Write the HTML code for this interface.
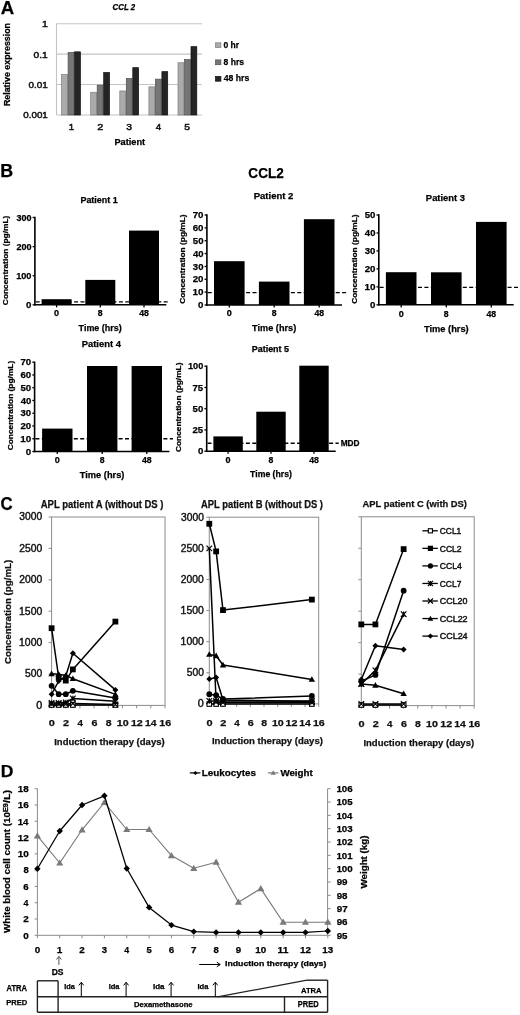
<!DOCTYPE html>
<html><head><meta charset="utf-8"><style>
html,body{margin:0;padding:0;background:#fff;}
svg{display:block;filter:grayscale(1);}
text{font-family:"Liberation Sans",sans-serif;}
</style></head><body>
<svg width="520" height="1015" viewBox="0 0 520 1015">
<rect x="0" y="0" width="520" height="1015" fill="#fff"/>
<text x="0.73" y="14.00" font-size="18.55" font-weight="bold" font-style="normal" fill="#000" stroke="#000" stroke-width="0.25" textLength="13.47" lengthAdjust="spacingAndGlyphs">A</text>
<text x="0.24" y="177.10" font-size="17.83" font-weight="bold" font-style="normal" fill="#000" stroke="#000" stroke-width="0.25" textLength="12.90" lengthAdjust="spacingAndGlyphs">B</text>
<text x="0.53" y="509.62" font-size="17.89" font-weight="bold" font-style="normal" fill="#000" stroke="#000" stroke-width="0.25" textLength="12.13" lengthAdjust="spacingAndGlyphs">C</text>
<text x="0.76" y="776.80" font-size="17.10" font-weight="bold" font-style="normal" fill="#000" stroke="#000" stroke-width="0.25" textLength="12.68" lengthAdjust="spacingAndGlyphs">D</text>
<line x1="56.50" y1="115.00" x2="202.00" y2="115.00" stroke="#c4c4c4" stroke-width="1.1" />
<line x1="56.50" y1="84.57" x2="202.00" y2="84.57" stroke="#c4c4c4" stroke-width="1.1" />
<line x1="56.50" y1="54.14" x2="202.00" y2="54.14" stroke="#c4c4c4" stroke-width="1.1" />
<line x1="56.50" y1="23.71" x2="202.00" y2="23.71" stroke="#c4c4c4" stroke-width="1.1" />
<line x1="56.50" y1="23.60" x2="56.50" y2="115.00" stroke="#c4c4c4" stroke-width="1.1" />
<rect x="61.60" y="74.55" width="5.80" height="40.45" fill="#ababab" stroke="#7d7d7d" stroke-width="0.7"/>
<rect x="68.10" y="52.45" width="5.80" height="62.55" fill="#767676" stroke="#505050" stroke-width="0.7"/>
<rect x="74.60" y="51.85" width="5.80" height="63.15" fill="#252525" stroke="#101010" stroke-width="0.7"/>
<rect x="90.70" y="92.25" width="5.80" height="22.75" fill="#ababab" stroke="#7d7d7d" stroke-width="0.7"/>
<rect x="97.20" y="85.15" width="5.80" height="29.85" fill="#767676" stroke="#505050" stroke-width="0.7"/>
<rect x="103.70" y="72.45" width="5.80" height="42.55" fill="#252525" stroke="#101010" stroke-width="0.7"/>
<rect x="119.80" y="90.95" width="5.80" height="24.05" fill="#ababab" stroke="#7d7d7d" stroke-width="0.7"/>
<rect x="126.30" y="78.45" width="5.80" height="36.55" fill="#767676" stroke="#505050" stroke-width="0.7"/>
<rect x="132.80" y="67.65" width="5.80" height="47.35" fill="#252525" stroke="#101010" stroke-width="0.7"/>
<rect x="148.90" y="86.85" width="5.80" height="28.15" fill="#ababab" stroke="#7d7d7d" stroke-width="0.7"/>
<rect x="155.40" y="79.15" width="5.80" height="35.85" fill="#767676" stroke="#505050" stroke-width="0.7"/>
<rect x="161.90" y="71.65" width="5.80" height="43.35" fill="#252525" stroke="#101010" stroke-width="0.7"/>
<rect x="178.00" y="62.75" width="5.80" height="52.25" fill="#ababab" stroke="#7d7d7d" stroke-width="0.7"/>
<rect x="184.50" y="59.55" width="5.80" height="55.45" fill="#767676" stroke="#505050" stroke-width="0.7"/>
<rect x="191.00" y="46.65" width="5.80" height="68.35" fill="#252525" stroke="#101010" stroke-width="0.7"/>
<text x="41.91" y="27.30" font-size="8.99" font-weight="normal" font-style="normal" fill="#111" stroke="#111" stroke-width="0.45" textLength="5.88" lengthAdjust="spacingAndGlyphs">1</text>
<text x="33.59" y="57.61" font-size="8.59" font-weight="normal" font-style="normal" fill="#111" stroke="#111" stroke-width="0.45" textLength="14.17" lengthAdjust="spacingAndGlyphs">0.1</text>
<text x="28.40" y="87.91" font-size="8.73" font-weight="normal" font-style="normal" fill="#111" stroke="#111" stroke-width="0.45" textLength="19.36" lengthAdjust="spacingAndGlyphs">0.01</text>
<text x="23.31" y="118.11" font-size="8.59" font-weight="normal" font-style="normal" fill="#111" stroke="#111" stroke-width="0.45" textLength="24.46" lengthAdjust="spacingAndGlyphs">0.001</text>
<text transform="translate(9.60,106.07) rotate(-90)" x="0" y="0" font-size="8.56" font-weight="bold" font-style="normal" fill="#000" stroke="#000" stroke-width="0.25" textLength="83.09" lengthAdjust="spacingAndGlyphs">Relative expression</text>
<text x="68.78" y="130.10" font-size="9.28" font-weight="normal" font-style="normal" fill="#111" stroke="#111" stroke-width="0.5" textLength="5.37" lengthAdjust="spacingAndGlyphs">1</text>
<text x="97.21" y="130.10" font-size="9.14" font-weight="normal" font-style="normal" fill="#111" stroke="#111" stroke-width="0.5" textLength="5.99" lengthAdjust="spacingAndGlyphs">2</text>
<text x="126.34" y="130.01" font-size="9.01" font-weight="normal" font-style="normal" fill="#111" stroke="#111" stroke-width="0.5" textLength="5.74" lengthAdjust="spacingAndGlyphs">3</text>
<text x="155.66" y="130.10" font-size="9.28" font-weight="normal" font-style="normal" fill="#111" stroke="#111" stroke-width="0.5" textLength="5.40" lengthAdjust="spacingAndGlyphs">4</text>
<text x="184.24" y="130.01" font-size="9.14" font-weight="normal" font-style="normal" fill="#111" stroke="#111" stroke-width="0.5" textLength="5.74" lengthAdjust="spacingAndGlyphs">5</text>
<text x="114.40" y="144.82" font-size="8.30" font-weight="bold" font-style="normal" fill="#000" stroke="#000" stroke-width="0.25" textLength="30.73" lengthAdjust="spacingAndGlyphs">Patient</text>
<text x="112.61" y="9.52" font-size="8.17" font-weight="bold" font-style="italic" fill="#000" stroke="#000" stroke-width="0.25" textLength="22.58" lengthAdjust="spacingAndGlyphs">CCL 2</text>
<rect x="215.50" y="42.80" width="5.40" height="4.80" fill="#ababab" stroke="#7d7d7d" stroke-width="0.7"/>
<text x="223.46" y="48.11" font-size="9.12" font-weight="bold" font-style="normal" fill="#000" stroke="#000" stroke-width="0.25" textLength="15.66" lengthAdjust="spacingAndGlyphs">0 hr</text>
<rect x="215.50" y="59.90" width="5.40" height="4.80" fill="#767676" stroke="#505050" stroke-width="0.7"/>
<text x="223.54" y="64.91" font-size="9.12" font-weight="bold" font-style="normal" fill="#000" stroke="#000" stroke-width="0.25" textLength="20.50" lengthAdjust="spacingAndGlyphs">8 hrs</text>
<rect x="215.50" y="76.40" width="5.40" height="4.80" fill="#252525" stroke="#101010" stroke-width="0.7"/>
<text x="223.67" y="81.41" font-size="9.12" font-weight="bold" font-style="normal" fill="#000" stroke="#000" stroke-width="0.25" textLength="25.59" lengthAdjust="spacingAndGlyphs">48 hrs</text>
<text x="248.36" y="178.26" font-size="14.08" font-weight="bold" font-style="normal" fill="#000" stroke="#000" stroke-width="0.25" textLength="35.40" lengthAdjust="spacingAndGlyphs">CCL2</text>
<line x1="34.90" y1="216.80" x2="34.90" y2="305.50" stroke="#000" stroke-width="1.6" />
<line x1="34.10" y1="304.80" x2="166.30" y2="304.80" stroke="#000" stroke-width="1.6" />
<line x1="32.60" y1="304.80" x2="34.90" y2="304.80" stroke="#000" stroke-width="1.3" />
<text x="26.11" y="308.01" font-size="9.30" font-weight="bold" font-style="normal" fill="#000" stroke="#000" stroke-width="0.25" textLength="5.39" lengthAdjust="spacingAndGlyphs">0</text>
<line x1="32.60" y1="275.70" x2="34.90" y2="275.70" stroke="#000" stroke-width="1.3" />
<text x="16.15" y="278.91" font-size="9.30" font-weight="bold" font-style="normal" fill="#000" stroke="#000" stroke-width="0.25" textLength="15.35" lengthAdjust="spacingAndGlyphs">100</text>
<line x1="32.60" y1="246.60" x2="34.90" y2="246.60" stroke="#000" stroke-width="1.3" />
<text x="16.38" y="249.81" font-size="9.30" font-weight="bold" font-style="normal" fill="#000" stroke="#000" stroke-width="0.25" textLength="15.11" lengthAdjust="spacingAndGlyphs">200</text>
<line x1="32.60" y1="217.50" x2="34.90" y2="217.50" stroke="#000" stroke-width="1.3" />
<text x="16.47" y="220.71" font-size="9.30" font-weight="bold" font-style="normal" fill="#000" stroke="#000" stroke-width="0.25" textLength="15.02" lengthAdjust="spacingAndGlyphs">300</text>
<rect x="41.60" y="299.20" width="30.00" height="5.60" fill="#000" stroke="none" stroke-width="0"/>
<line x1="56.60" y1="304.80" x2="56.60" y2="307.40" stroke="#000" stroke-width="1.3" />
<rect x="85.30" y="279.90" width="30.00" height="24.90" fill="#000" stroke="none" stroke-width="0"/>
<line x1="100.30" y1="304.80" x2="100.30" y2="307.40" stroke="#000" stroke-width="1.3" />
<rect x="129.00" y="230.60" width="30.00" height="74.20" fill="#000" stroke="none" stroke-width="0"/>
<line x1="144.00" y1="304.80" x2="144.00" y2="307.40" stroke="#000" stroke-width="1.3" />
<line x1="35.70" y1="301.90" x2="169.40" y2="301.90" stroke="#000" stroke-width="1.4" stroke-dasharray="4.0,2.4"/>
<text x="54.09" y="316.31" font-size="8.59" font-weight="bold" font-style="normal" fill="#000" stroke="#000" stroke-width="0.25" textLength="5.03" lengthAdjust="spacingAndGlyphs">0</text>
<text x="97.89" y="316.31" font-size="8.59" font-weight="bold" font-style="normal" fill="#000" stroke="#000" stroke-width="0.25" textLength="4.83" lengthAdjust="spacingAndGlyphs">8</text>
<text x="139.22" y="316.31" font-size="8.59" font-weight="bold" font-style="normal" fill="#000" stroke="#000" stroke-width="0.25" textLength="9.71" lengthAdjust="spacingAndGlyphs">48</text>
<text x="80.42" y="203.21" font-size="9.25" font-weight="bold" font-style="normal" fill="#000" stroke="#000" stroke-width="0.25" textLength="37.33" lengthAdjust="spacingAndGlyphs">Patient 1</text>
<text transform="translate(8.28,305.13) rotate(-90)" x="0" y="0" font-size="7.70" font-weight="bold" font-style="normal" fill="#000" stroke="#000" stroke-width="0.25" textLength="89.42" lengthAdjust="spacingAndGlyphs">Concentration (pg/mL)</text>
<text x="78.61" y="330.75" font-size="9.30" font-weight="bold" font-style="normal" fill="#000" stroke="#000" stroke-width="0.25" textLength="43.10" lengthAdjust="spacingAndGlyphs">Time (hrs)</text>
<line x1="206.90" y1="214.30" x2="206.90" y2="305.70" stroke="#000" stroke-width="1.6" />
<line x1="206.10" y1="305.00" x2="342.00" y2="305.00" stroke="#000" stroke-width="1.6" />
<line x1="204.60" y1="305.00" x2="206.90" y2="305.00" stroke="#000" stroke-width="1.3" />
<text x="198.11" y="308.21" font-size="9.30" font-weight="bold" font-style="normal" fill="#000" stroke="#000" stroke-width="0.25" textLength="5.39" lengthAdjust="spacingAndGlyphs">0</text>
<line x1="204.60" y1="292.14" x2="206.90" y2="292.14" stroke="#000" stroke-width="1.3" />
<text x="192.51" y="295.35" font-size="9.30" font-weight="bold" font-style="normal" fill="#000" stroke="#000" stroke-width="0.25" textLength="11.01" lengthAdjust="spacingAndGlyphs">10</text>
<line x1="204.60" y1="279.29" x2="206.90" y2="279.29" stroke="#000" stroke-width="1.3" />
<text x="192.76" y="282.49" font-size="9.30" font-weight="bold" font-style="normal" fill="#000" stroke="#000" stroke-width="0.25" textLength="10.75" lengthAdjust="spacingAndGlyphs">20</text>
<line x1="204.60" y1="266.43" x2="206.90" y2="266.43" stroke="#000" stroke-width="1.3" />
<text x="192.86" y="269.64" font-size="9.30" font-weight="bold" font-style="normal" fill="#000" stroke="#000" stroke-width="0.25" textLength="10.64" lengthAdjust="spacingAndGlyphs">30</text>
<line x1="204.60" y1="253.57" x2="206.90" y2="253.57" stroke="#000" stroke-width="1.3" />
<text x="192.96" y="256.78" font-size="9.30" font-weight="bold" font-style="normal" fill="#000" stroke="#000" stroke-width="0.25" textLength="10.54" lengthAdjust="spacingAndGlyphs">40</text>
<line x1="204.60" y1="240.71" x2="206.90" y2="240.71" stroke="#000" stroke-width="1.3" />
<text x="192.81" y="243.92" font-size="9.30" font-weight="bold" font-style="normal" fill="#000" stroke="#000" stroke-width="0.25" textLength="10.70" lengthAdjust="spacingAndGlyphs">50</text>
<line x1="204.60" y1="227.86" x2="206.90" y2="227.86" stroke="#000" stroke-width="1.3" />
<text x="192.76" y="231.06" font-size="9.30" font-weight="bold" font-style="normal" fill="#000" stroke="#000" stroke-width="0.25" textLength="10.75" lengthAdjust="spacingAndGlyphs">60</text>
<line x1="204.60" y1="215.00" x2="206.90" y2="215.00" stroke="#000" stroke-width="1.3" />
<text x="192.71" y="218.21" font-size="9.30" font-weight="bold" font-style="normal" fill="#000" stroke="#000" stroke-width="0.25" textLength="10.80" lengthAdjust="spacingAndGlyphs">70</text>
<rect x="214.00" y="261.20" width="30.60" height="43.80" fill="#000" stroke="none" stroke-width="0"/>
<line x1="229.30" y1="305.00" x2="229.30" y2="307.60" stroke="#000" stroke-width="1.3" />
<rect x="258.90" y="281.60" width="30.60" height="23.40" fill="#000" stroke="none" stroke-width="0"/>
<line x1="274.20" y1="305.00" x2="274.20" y2="307.60" stroke="#000" stroke-width="1.3" />
<rect x="303.90" y="219.20" width="30.60" height="85.80" fill="#000" stroke="none" stroke-width="0"/>
<line x1="319.20" y1="305.00" x2="319.20" y2="307.60" stroke="#000" stroke-width="1.3" />
<line x1="207.70" y1="292.60" x2="346.80" y2="292.60" stroke="#000" stroke-width="1.4" stroke-dasharray="4.0,2.4"/>
<text x="226.79" y="316.31" font-size="8.59" font-weight="bold" font-style="normal" fill="#000" stroke="#000" stroke-width="0.25" textLength="5.03" lengthAdjust="spacingAndGlyphs">0</text>
<text x="271.79" y="316.31" font-size="8.59" font-weight="bold" font-style="normal" fill="#000" stroke="#000" stroke-width="0.25" textLength="4.83" lengthAdjust="spacingAndGlyphs">8</text>
<text x="314.42" y="316.31" font-size="8.59" font-weight="bold" font-style="normal" fill="#000" stroke="#000" stroke-width="0.25" textLength="9.71" lengthAdjust="spacingAndGlyphs">48</text>
<text x="253.68" y="199.41" font-size="9.25" font-weight="bold" font-style="normal" fill="#000" stroke="#000" stroke-width="0.25" textLength="39.73" lengthAdjust="spacingAndGlyphs">Patient 2</text>
<text transform="translate(185.28,303.83) rotate(-90)" x="0" y="0" font-size="7.70" font-weight="bold" font-style="normal" fill="#000" stroke="#000" stroke-width="0.25" textLength="89.42" lengthAdjust="spacingAndGlyphs">Concentration (pg/mL)</text>
<text x="252.11" y="331.15" font-size="9.30" font-weight="bold" font-style="normal" fill="#000" stroke="#000" stroke-width="0.25" textLength="44.11" lengthAdjust="spacingAndGlyphs">Time (hrs)</text>
<line x1="378.80" y1="214.30" x2="378.80" y2="305.50" stroke="#000" stroke-width="1.6" />
<line x1="378.00" y1="304.80" x2="513.70" y2="304.80" stroke="#000" stroke-width="1.6" />
<line x1="376.50" y1="304.80" x2="378.80" y2="304.80" stroke="#000" stroke-width="1.3" />
<text x="370.01" y="308.01" font-size="9.30" font-weight="bold" font-style="normal" fill="#000" stroke="#000" stroke-width="0.25" textLength="5.39" lengthAdjust="spacingAndGlyphs">0</text>
<line x1="376.50" y1="286.84" x2="378.80" y2="286.84" stroke="#000" stroke-width="1.3" />
<text x="364.41" y="290.05" font-size="9.30" font-weight="bold" font-style="normal" fill="#000" stroke="#000" stroke-width="0.25" textLength="11.01" lengthAdjust="spacingAndGlyphs">10</text>
<line x1="376.50" y1="268.88" x2="378.80" y2="268.88" stroke="#000" stroke-width="1.3" />
<text x="364.66" y="272.09" font-size="9.30" font-weight="bold" font-style="normal" fill="#000" stroke="#000" stroke-width="0.25" textLength="10.75" lengthAdjust="spacingAndGlyphs">20</text>
<line x1="376.50" y1="250.92" x2="378.80" y2="250.92" stroke="#000" stroke-width="1.3" />
<text x="364.76" y="254.13" font-size="9.30" font-weight="bold" font-style="normal" fill="#000" stroke="#000" stroke-width="0.25" textLength="10.64" lengthAdjust="spacingAndGlyphs">30</text>
<line x1="376.50" y1="232.96" x2="378.80" y2="232.96" stroke="#000" stroke-width="1.3" />
<text x="364.86" y="236.17" font-size="9.30" font-weight="bold" font-style="normal" fill="#000" stroke="#000" stroke-width="0.25" textLength="10.54" lengthAdjust="spacingAndGlyphs">40</text>
<line x1="376.50" y1="215.00" x2="378.80" y2="215.00" stroke="#000" stroke-width="1.3" />
<text x="364.71" y="218.21" font-size="9.30" font-weight="bold" font-style="normal" fill="#000" stroke="#000" stroke-width="0.25" textLength="10.70" lengthAdjust="spacingAndGlyphs">50</text>
<rect x="385.90" y="272.20" width="30.60" height="32.60" fill="#000" stroke="none" stroke-width="0"/>
<line x1="401.20" y1="304.80" x2="401.20" y2="307.40" stroke="#000" stroke-width="1.3" />
<rect x="431.00" y="272.30" width="30.60" height="32.50" fill="#000" stroke="none" stroke-width="0"/>
<line x1="446.30" y1="304.80" x2="446.30" y2="307.40" stroke="#000" stroke-width="1.3" />
<rect x="476.00" y="221.90" width="30.60" height="82.90" fill="#000" stroke="none" stroke-width="0"/>
<line x1="491.30" y1="304.80" x2="491.30" y2="307.40" stroke="#000" stroke-width="1.3" />
<line x1="379.60" y1="287.40" x2="520.00" y2="287.40" stroke="#000" stroke-width="1.4" stroke-dasharray="4.0,2.4"/>
<text x="398.69" y="316.61" font-size="8.59" font-weight="bold" font-style="normal" fill="#000" stroke="#000" stroke-width="0.25" textLength="5.03" lengthAdjust="spacingAndGlyphs">0</text>
<text x="443.89" y="316.61" font-size="8.59" font-weight="bold" font-style="normal" fill="#000" stroke="#000" stroke-width="0.25" textLength="4.83" lengthAdjust="spacingAndGlyphs">8</text>
<text x="486.52" y="316.61" font-size="8.59" font-weight="bold" font-style="normal" fill="#000" stroke="#000" stroke-width="0.25" textLength="9.71" lengthAdjust="spacingAndGlyphs">48</text>
<text x="425.89" y="200.51" font-size="9.12" font-weight="bold" font-style="normal" fill="#000" stroke="#000" stroke-width="0.25" textLength="39.17" lengthAdjust="spacingAndGlyphs">Patient 3</text>
<text transform="translate(357.18,303.83) rotate(-90)" x="0" y="0" font-size="7.70" font-weight="bold" font-style="normal" fill="#000" stroke="#000" stroke-width="0.25" textLength="89.42" lengthAdjust="spacingAndGlyphs">Concentration (pg/mL)</text>
<text x="423.91" y="331.55" font-size="9.30" font-weight="bold" font-style="normal" fill="#000" stroke="#000" stroke-width="0.25" textLength="44.82" lengthAdjust="spacingAndGlyphs">Time (hrs)</text>
<line x1="34.60" y1="361.50" x2="34.60" y2="452.20" stroke="#000" stroke-width="1.6" />
<line x1="33.80" y1="451.50" x2="169.40" y2="451.50" stroke="#000" stroke-width="1.6" />
<line x1="32.30" y1="451.50" x2="34.60" y2="451.50" stroke="#000" stroke-width="1.3" />
<text x="25.81" y="454.71" font-size="9.30" font-weight="bold" font-style="normal" fill="#000" stroke="#000" stroke-width="0.25" textLength="5.39" lengthAdjust="spacingAndGlyphs">0</text>
<line x1="32.30" y1="438.74" x2="34.60" y2="438.74" stroke="#000" stroke-width="1.3" />
<text x="20.21" y="441.95" font-size="9.30" font-weight="bold" font-style="normal" fill="#000" stroke="#000" stroke-width="0.25" textLength="11.01" lengthAdjust="spacingAndGlyphs">10</text>
<line x1="32.30" y1="425.99" x2="34.60" y2="425.99" stroke="#000" stroke-width="1.3" />
<text x="20.46" y="429.19" font-size="9.30" font-weight="bold" font-style="normal" fill="#000" stroke="#000" stroke-width="0.25" textLength="10.75" lengthAdjust="spacingAndGlyphs">20</text>
<line x1="32.30" y1="413.23" x2="34.60" y2="413.23" stroke="#000" stroke-width="1.3" />
<text x="20.56" y="416.44" font-size="9.30" font-weight="bold" font-style="normal" fill="#000" stroke="#000" stroke-width="0.25" textLength="10.64" lengthAdjust="spacingAndGlyphs">30</text>
<line x1="32.30" y1="400.47" x2="34.60" y2="400.47" stroke="#000" stroke-width="1.3" />
<text x="20.66" y="403.68" font-size="9.30" font-weight="bold" font-style="normal" fill="#000" stroke="#000" stroke-width="0.25" textLength="10.54" lengthAdjust="spacingAndGlyphs">40</text>
<line x1="32.30" y1="387.71" x2="34.60" y2="387.71" stroke="#000" stroke-width="1.3" />
<text x="20.51" y="390.92" font-size="9.30" font-weight="bold" font-style="normal" fill="#000" stroke="#000" stroke-width="0.25" textLength="10.70" lengthAdjust="spacingAndGlyphs">50</text>
<line x1="32.30" y1="374.96" x2="34.60" y2="374.96" stroke="#000" stroke-width="1.3" />
<text x="20.46" y="378.16" font-size="9.30" font-weight="bold" font-style="normal" fill="#000" stroke="#000" stroke-width="0.25" textLength="10.75" lengthAdjust="spacingAndGlyphs">60</text>
<line x1="32.30" y1="362.20" x2="34.60" y2="362.20" stroke="#000" stroke-width="1.3" />
<text x="20.41" y="365.41" font-size="9.30" font-weight="bold" font-style="normal" fill="#000" stroke="#000" stroke-width="0.25" textLength="10.80" lengthAdjust="spacingAndGlyphs">70</text>
<rect x="42.10" y="428.60" width="30.40" height="22.90" fill="#000" stroke="none" stroke-width="0"/>
<line x1="57.30" y1="451.50" x2="57.30" y2="454.10" stroke="#000" stroke-width="1.3" />
<rect x="87.00" y="366.00" width="30.40" height="85.50" fill="#000" stroke="none" stroke-width="0"/>
<line x1="102.20" y1="451.50" x2="102.20" y2="454.10" stroke="#000" stroke-width="1.3" />
<rect x="131.60" y="366.00" width="30.40" height="85.50" fill="#000" stroke="none" stroke-width="0"/>
<line x1="146.80" y1="451.50" x2="146.80" y2="454.10" stroke="#000" stroke-width="1.3" />
<line x1="35.40" y1="438.80" x2="173.00" y2="438.80" stroke="#000" stroke-width="1.4" stroke-dasharray="4.0,2.4"/>
<text x="54.79" y="463.31" font-size="8.73" font-weight="bold" font-style="normal" fill="#000" stroke="#000" stroke-width="0.25" textLength="5.03" lengthAdjust="spacingAndGlyphs">0</text>
<text x="99.79" y="463.31" font-size="8.73" font-weight="bold" font-style="normal" fill="#000" stroke="#000" stroke-width="0.25" textLength="4.83" lengthAdjust="spacingAndGlyphs">8</text>
<text x="142.02" y="463.31" font-size="8.73" font-weight="bold" font-style="normal" fill="#000" stroke="#000" stroke-width="0.25" textLength="9.71" lengthAdjust="spacingAndGlyphs">48</text>
<text x="81.69" y="347.21" font-size="8.98" font-weight="bold" font-style="normal" fill="#000" stroke="#000" stroke-width="0.25" textLength="39.19" lengthAdjust="spacingAndGlyphs">Patient 4</text>
<text transform="translate(13.18,450.33) rotate(-90)" x="0" y="0" font-size="7.70" font-weight="bold" font-style="normal" fill="#000" stroke="#000" stroke-width="0.25" textLength="89.52" lengthAdjust="spacingAndGlyphs">Concentration (pg/mL)</text>
<text x="79.71" y="477.98" font-size="9.63" font-weight="bold" font-style="normal" fill="#000" stroke="#000" stroke-width="0.25" textLength="44.72" lengthAdjust="spacingAndGlyphs">Time (hrs)</text>
<line x1="206.70" y1="365.50" x2="206.70" y2="451.90" stroke="#000" stroke-width="1.6" />
<line x1="205.90" y1="451.20" x2="335.70" y2="451.20" stroke="#000" stroke-width="1.6" />
<line x1="204.40" y1="451.20" x2="206.70" y2="451.20" stroke="#000" stroke-width="1.3" />
<text x="197.91" y="454.41" font-size="9.30" font-weight="bold" font-style="normal" fill="#000" stroke="#000" stroke-width="0.25" textLength="5.39" lengthAdjust="spacingAndGlyphs">0</text>
<line x1="204.40" y1="429.95" x2="206.70" y2="429.95" stroke="#000" stroke-width="1.3" />
<text x="192.57" y="433.16" font-size="9.30" font-weight="bold" font-style="normal" fill="#000" stroke="#000" stroke-width="0.25" textLength="10.59" lengthAdjust="spacingAndGlyphs">25</text>
<line x1="204.40" y1="408.70" x2="206.70" y2="408.70" stroke="#000" stroke-width="1.3" />
<text x="192.61" y="411.91" font-size="9.30" font-weight="bold" font-style="normal" fill="#000" stroke="#000" stroke-width="0.25" textLength="10.70" lengthAdjust="spacingAndGlyphs">50</text>
<line x1="204.40" y1="387.45" x2="206.70" y2="387.45" stroke="#000" stroke-width="1.3" />
<text x="192.52" y="390.66" font-size="9.43" font-weight="bold" font-style="normal" fill="#000" stroke="#000" stroke-width="0.25" textLength="10.64" lengthAdjust="spacingAndGlyphs">75</text>
<line x1="204.40" y1="366.20" x2="206.70" y2="366.20" stroke="#000" stroke-width="1.3" />
<text x="187.95" y="369.41" font-size="9.30" font-weight="bold" font-style="normal" fill="#000" stroke="#000" stroke-width="0.25" textLength="15.35" lengthAdjust="spacingAndGlyphs">100</text>
<rect x="213.40" y="436.40" width="29.40" height="14.80" fill="#000" stroke="none" stroke-width="0"/>
<line x1="228.10" y1="451.20" x2="228.10" y2="453.80" stroke="#000" stroke-width="1.3" />
<rect x="256.30" y="411.70" width="29.40" height="39.50" fill="#000" stroke="none" stroke-width="0"/>
<line x1="271.00" y1="451.20" x2="271.00" y2="453.80" stroke="#000" stroke-width="1.3" />
<rect x="299.30" y="365.70" width="29.40" height="85.50" fill="#000" stroke="none" stroke-width="0"/>
<line x1="314.00" y1="451.20" x2="314.00" y2="453.80" stroke="#000" stroke-width="1.3" />
<line x1="207.50" y1="443.30" x2="338.70" y2="443.30" stroke="#000" stroke-width="1.4" stroke-dasharray="4.0,2.4"/>
<text x="225.59" y="462.81" font-size="8.73" font-weight="bold" font-style="normal" fill="#000" stroke="#000" stroke-width="0.25" textLength="5.03" lengthAdjust="spacingAndGlyphs">0</text>
<text x="268.59" y="462.81" font-size="8.73" font-weight="bold" font-style="normal" fill="#000" stroke="#000" stroke-width="0.25" textLength="4.83" lengthAdjust="spacingAndGlyphs">8</text>
<text x="309.22" y="462.81" font-size="8.73" font-weight="bold" font-style="normal" fill="#000" stroke="#000" stroke-width="0.25" textLength="9.71" lengthAdjust="spacingAndGlyphs">48</text>
<text x="251.72" y="351.92" font-size="8.44" font-weight="bold" font-style="normal" fill="#000" stroke="#000" stroke-width="0.25" textLength="37.33" lengthAdjust="spacingAndGlyphs">Patient 5</text>
<text transform="translate(181.38,452.03) rotate(-90)" x="0" y="0" font-size="7.70" font-weight="bold" font-style="normal" fill="#000" stroke="#000" stroke-width="0.25" textLength="89.52" lengthAdjust="spacingAndGlyphs">Concentration (pg/mL)</text>
<text x="250.11" y="477.17" font-size="9.20" font-weight="bold" font-style="normal" fill="#000" stroke="#000" stroke-width="0.25" textLength="41.79" lengthAdjust="spacingAndGlyphs">Time (hrs)</text>
<text x="340.66" y="446.20" font-size="8.41" font-weight="bold" font-style="normal" fill="#000" stroke="#000" stroke-width="0.25" textLength="18.89" lengthAdjust="spacingAndGlyphs">MDD</text>
<rect x="51.60" y="517.00" width="113.40" height="188.40" fill="none" stroke="#8c8c8c" stroke-width="1"/>
<line x1="48.60" y1="705.40" x2="51.60" y2="705.40" stroke="#8c8c8c" stroke-width="1" />
<text x="36.27" y="708.70" font-size="10.07" font-weight="normal" font-style="normal" fill="#111" stroke="#111" stroke-width="0.4" textLength="6.03" lengthAdjust="spacingAndGlyphs">0</text>
<line x1="48.60" y1="674.00" x2="51.60" y2="674.00" stroke="#8c8c8c" stroke-width="1" />
<text x="25.09" y="677.30" font-size="10.07" font-weight="normal" font-style="normal" fill="#111" stroke="#111" stroke-width="0.4" textLength="17.21" lengthAdjust="spacingAndGlyphs">500</text>
<line x1="48.60" y1="642.60" x2="51.60" y2="642.60" stroke="#8c8c8c" stroke-width="1" />
<text x="19.02" y="645.90" font-size="10.07" font-weight="normal" font-style="normal" fill="#111" stroke="#111" stroke-width="0.4" textLength="23.25" lengthAdjust="spacingAndGlyphs">1000</text>
<line x1="48.60" y1="611.20" x2="51.60" y2="611.20" stroke="#8c8c8c" stroke-width="1" />
<text x="19.02" y="614.50" font-size="10.07" font-weight="normal" font-style="normal" fill="#111" stroke="#111" stroke-width="0.4" textLength="23.25" lengthAdjust="spacingAndGlyphs">1500</text>
<line x1="48.60" y1="579.80" x2="51.60" y2="579.80" stroke="#8c8c8c" stroke-width="1" />
<text x="19.28" y="583.10" font-size="10.07" font-weight="normal" font-style="normal" fill="#111" stroke="#111" stroke-width="0.4" textLength="22.97" lengthAdjust="spacingAndGlyphs">2000</text>
<line x1="48.60" y1="548.40" x2="51.60" y2="548.40" stroke="#8c8c8c" stroke-width="1" />
<text x="19.28" y="551.70" font-size="10.07" font-weight="normal" font-style="normal" fill="#111" stroke="#111" stroke-width="0.4" textLength="22.97" lengthAdjust="spacingAndGlyphs">2500</text>
<line x1="48.60" y1="517.00" x2="51.60" y2="517.00" stroke="#8c8c8c" stroke-width="1" />
<text x="19.39" y="520.30" font-size="10.07" font-weight="normal" font-style="normal" fill="#111" stroke="#111" stroke-width="0.4" textLength="22.87" lengthAdjust="spacingAndGlyphs">3000</text>
<line x1="51.60" y1="705.40" x2="51.60" y2="708.40" stroke="#8c8c8c" stroke-width="1" />
<text x="48.86" y="726.31" font-size="8.73" font-weight="bold" font-style="normal" fill="#111" stroke="#111" stroke-width="0.25" textLength="6.09" lengthAdjust="spacingAndGlyphs">0</text>
<line x1="65.78" y1="705.40" x2="65.78" y2="708.40" stroke="#8c8c8c" stroke-width="1" />
<text x="63.10" y="726.40" font-size="8.86" font-weight="bold" font-style="normal" fill="#111" stroke="#111" stroke-width="0.25" textLength="6.03" lengthAdjust="spacingAndGlyphs">2</text>
<line x1="79.95" y1="705.40" x2="79.95" y2="708.40" stroke="#8c8c8c" stroke-width="1" />
<text x="77.50" y="726.40" font-size="8.99" font-weight="bold" font-style="normal" fill="#111" stroke="#111" stroke-width="0.25" textLength="5.41" lengthAdjust="spacingAndGlyphs">4</text>
<line x1="94.12" y1="705.40" x2="94.12" y2="708.40" stroke="#8c8c8c" stroke-width="1" />
<text x="91.45" y="726.31" font-size="8.73" font-weight="bold" font-style="normal" fill="#111" stroke="#111" stroke-width="0.25" textLength="5.96" lengthAdjust="spacingAndGlyphs">6</text>
<line x1="108.30" y1="705.40" x2="108.30" y2="708.40" stroke="#8c8c8c" stroke-width="1" />
<text x="105.68" y="726.31" font-size="8.73" font-weight="bold" font-style="normal" fill="#111" stroke="#111" stroke-width="0.25" textLength="5.84" lengthAdjust="spacingAndGlyphs">8</text>
<line x1="122.47" y1="705.40" x2="122.47" y2="708.40" stroke="#8c8c8c" stroke-width="1" />
<text x="116.73" y="726.31" font-size="8.73" font-weight="bold" font-style="normal" fill="#111" stroke="#111" stroke-width="0.25" textLength="11.89" lengthAdjust="spacingAndGlyphs">10</text>
<line x1="136.65" y1="705.40" x2="136.65" y2="708.40" stroke="#8c8c8c" stroke-width="1" />
<text x="130.91" y="726.40" font-size="8.86" font-weight="bold" font-style="normal" fill="#111" stroke="#111" stroke-width="0.25" textLength="11.89" lengthAdjust="spacingAndGlyphs">12</text>
<line x1="150.83" y1="705.40" x2="150.83" y2="708.40" stroke="#8c8c8c" stroke-width="1" />
<text x="145.10" y="726.40" font-size="8.99" font-weight="bold" font-style="normal" fill="#111" stroke="#111" stroke-width="0.25" textLength="11.50" lengthAdjust="spacingAndGlyphs">14</text>
<line x1="165.00" y1="705.40" x2="165.00" y2="708.40" stroke="#8c8c8c" stroke-width="1" />
<text x="159.26" y="726.31" font-size="8.73" font-weight="bold" font-style="normal" fill="#111" stroke="#111" stroke-width="0.25" textLength="11.84" lengthAdjust="spacingAndGlyphs">16</text>
<text x="40.76" y="507.65" font-size="10.70" font-weight="bold" font-style="normal" fill="#111" stroke="#111" stroke-width="0.25" textLength="122.78" lengthAdjust="spacingAndGlyphs">APL patient A (without DS )</text>
<text x="54.18" y="745.23" font-size="9.84" font-weight="bold" font-style="normal" fill="#111" stroke="#111" stroke-width="0.25" textLength="110.47" lengthAdjust="spacingAndGlyphs">Induction therapy (days)</text>
<polyline points="51.60,705.00 58.69,705.00 65.78,705.00 72.86,705.00 115.39,705.00" fill="none" stroke="#000" stroke-width="1.5" stroke-linejoin="round"/>
<polyline points="51.60,704.00 58.69,704.00 65.78,704.00 72.86,703.50 115.39,704.50" fill="none" stroke="#000" stroke-width="1.5" stroke-linejoin="round"/>
<polyline points="51.60,703.00 58.69,703.00 65.78,702.50 72.86,698.50 115.39,701.20" fill="none" stroke="#000" stroke-width="1.5" stroke-linejoin="round"/>
<polyline points="51.60,685.80 58.69,694.20 65.78,694.20 72.86,690.80 115.39,698.00" fill="none" stroke="#000" stroke-width="1.5" stroke-linejoin="round"/>
<polyline points="51.60,673.80 58.69,674.20 65.78,675.40 72.86,678.70 115.39,694.40" fill="none" stroke="#000" stroke-width="1.5" stroke-linejoin="round"/>
<polyline points="51.60,694.20 58.69,681.00 65.78,676.00 72.86,653.30 115.39,689.90" fill="none" stroke="#000" stroke-width="1.5" stroke-linejoin="round"/>
<polyline points="51.60,628.20 58.69,677.50 65.78,680.60 72.86,669.40 115.39,621.60" fill="none" stroke="#000" stroke-width="1.5" stroke-linejoin="round"/>
<rect x="49.30" y="702.70" width="4.60" height="4.60" fill="#fff" stroke="#000" stroke-width="1.1"/>
<rect x="56.39" y="702.70" width="4.60" height="4.60" fill="#fff" stroke="#000" stroke-width="1.1"/>
<rect x="63.48" y="702.70" width="4.60" height="4.60" fill="#fff" stroke="#000" stroke-width="1.1"/>
<rect x="70.56" y="702.70" width="4.60" height="4.60" fill="#fff" stroke="#000" stroke-width="1.1"/>
<rect x="113.09" y="702.70" width="4.60" height="4.60" fill="#fff" stroke="#000" stroke-width="1.1"/>
<path d="M48.80,701.20L54.40,706.80M48.80,706.80L54.40,701.20" stroke="#000" stroke-width="1.2" fill="none"/>
<path d="M55.89,701.20L61.49,706.80M55.89,706.80L61.49,701.20" stroke="#000" stroke-width="1.2" fill="none"/>
<path d="M62.98,701.20L68.58,706.80M62.98,706.80L68.58,701.20" stroke="#000" stroke-width="1.2" fill="none"/>
<path d="M70.06,700.70L75.66,706.30M70.06,706.30L75.66,700.70" stroke="#000" stroke-width="1.2" fill="none"/>
<path d="M112.59,701.70L118.19,707.30M112.59,707.30L118.19,701.70" stroke="#000" stroke-width="1.2" fill="none"/>
<path d="M48.80,700.20L54.40,705.80M48.80,705.80L54.40,700.20M51.60,700.20L51.60,705.80" stroke="#000" stroke-width="1.2" fill="none"/>
<path d="M55.89,700.20L61.49,705.80M55.89,705.80L61.49,700.20M58.69,700.20L58.69,705.80" stroke="#000" stroke-width="1.2" fill="none"/>
<path d="M62.98,699.70L68.58,705.30M62.98,705.30L68.58,699.70M65.78,699.70L65.78,705.30" stroke="#000" stroke-width="1.2" fill="none"/>
<path d="M70.06,695.70L75.66,701.30M70.06,701.30L75.66,695.70M72.86,695.70L72.86,701.30" stroke="#000" stroke-width="1.2" fill="none"/>
<path d="M112.59,698.40L118.19,704.00M112.59,704.00L118.19,698.40M115.39,698.40L115.39,704.00" stroke="#000" stroke-width="1.2" fill="none"/>
<circle cx="51.60" cy="685.80" r="2.90" fill="#000"/>
<circle cx="58.69" cy="694.20" r="2.90" fill="#000"/>
<circle cx="65.78" cy="694.20" r="2.90" fill="#000"/>
<circle cx="72.86" cy="690.80" r="2.90" fill="#000"/>
<circle cx="115.39" cy="698.00" r="2.90" fill="#000"/>
<path d="M51.60,670.60L54.80,676.20L48.40,676.20Z" fill="#000"/>
<path d="M58.69,671.00L61.89,676.60L55.49,676.60Z" fill="#000"/>
<path d="M65.78,672.20L68.98,677.80L62.58,677.80Z" fill="#000"/>
<path d="M72.86,675.50L76.06,681.10L69.66,681.10Z" fill="#000"/>
<path d="M115.39,691.20L118.59,696.80L112.19,696.80Z" fill="#000"/>
<path d="M51.60,691.20L54.60,694.20L51.60,697.20L48.60,694.20Z" fill="#000"/>
<path d="M58.69,678.00L61.69,681.00L58.69,684.00L55.69,681.00Z" fill="#000"/>
<path d="M65.78,673.00L68.78,676.00L65.78,679.00L62.78,676.00Z" fill="#000"/>
<path d="M72.86,650.30L75.86,653.30L72.86,656.30L69.86,653.30Z" fill="#000"/>
<path d="M115.39,686.90L118.39,689.90L115.39,692.90L112.39,689.90Z" fill="#000"/>
<rect x="48.70" y="625.30" width="5.80" height="5.80" fill="#000"/>
<rect x="55.79" y="674.60" width="5.80" height="5.80" fill="#000"/>
<rect x="62.88" y="677.70" width="5.80" height="5.80" fill="#000"/>
<rect x="69.96" y="666.50" width="5.80" height="5.80" fill="#000"/>
<rect x="112.49" y="618.70" width="5.80" height="5.80" fill="#000"/>
<text transform="translate(10.89,664.09) rotate(-90)" x="0" y="0" font-size="9.09" font-weight="bold" font-style="normal" fill="#111" stroke="#111" stroke-width="0.25" textLength="104.34" lengthAdjust="spacingAndGlyphs">Concentration (pg/mL)</text>
<rect x="209.30" y="517.20" width="109.40" height="186.70" fill="none" stroke="#8c8c8c" stroke-width="1"/>
<line x1="206.30" y1="703.90" x2="209.30" y2="703.90" stroke="#8c8c8c" stroke-width="1" />
<text x="197.87" y="707.20" font-size="10.07" font-weight="normal" font-style="normal" fill="#111" stroke="#111" stroke-width="0.4" textLength="6.03" lengthAdjust="spacingAndGlyphs">0</text>
<line x1="206.30" y1="672.78" x2="209.30" y2="672.78" stroke="#8c8c8c" stroke-width="1" />
<text x="186.69" y="676.08" font-size="10.07" font-weight="normal" font-style="normal" fill="#111" stroke="#111" stroke-width="0.4" textLength="17.21" lengthAdjust="spacingAndGlyphs">500</text>
<line x1="206.30" y1="641.67" x2="209.30" y2="641.67" stroke="#8c8c8c" stroke-width="1" />
<text x="180.62" y="644.97" font-size="10.07" font-weight="normal" font-style="normal" fill="#111" stroke="#111" stroke-width="0.4" textLength="23.25" lengthAdjust="spacingAndGlyphs">1000</text>
<line x1="206.30" y1="610.55" x2="209.30" y2="610.55" stroke="#8c8c8c" stroke-width="1" />
<text x="180.62" y="613.85" font-size="10.07" font-weight="normal" font-style="normal" fill="#111" stroke="#111" stroke-width="0.4" textLength="23.25" lengthAdjust="spacingAndGlyphs">1500</text>
<line x1="206.30" y1="579.43" x2="209.30" y2="579.43" stroke="#8c8c8c" stroke-width="1" />
<text x="180.88" y="582.73" font-size="10.07" font-weight="normal" font-style="normal" fill="#111" stroke="#111" stroke-width="0.4" textLength="22.97" lengthAdjust="spacingAndGlyphs">2000</text>
<line x1="206.30" y1="548.32" x2="209.30" y2="548.32" stroke="#8c8c8c" stroke-width="1" />
<text x="180.88" y="551.62" font-size="10.07" font-weight="normal" font-style="normal" fill="#111" stroke="#111" stroke-width="0.4" textLength="22.97" lengthAdjust="spacingAndGlyphs">2500</text>
<line x1="206.30" y1="517.20" x2="209.30" y2="517.20" stroke="#8c8c8c" stroke-width="1" />
<text x="180.99" y="520.50" font-size="10.07" font-weight="normal" font-style="normal" fill="#111" stroke="#111" stroke-width="0.4" textLength="22.87" lengthAdjust="spacingAndGlyphs">3000</text>
<line x1="209.30" y1="703.90" x2="209.30" y2="706.90" stroke="#8c8c8c" stroke-width="1" />
<text x="206.56" y="726.11" font-size="8.73" font-weight="bold" font-style="normal" fill="#111" stroke="#111" stroke-width="0.25" textLength="6.09" lengthAdjust="spacingAndGlyphs">0</text>
<line x1="222.98" y1="703.90" x2="222.98" y2="706.90" stroke="#8c8c8c" stroke-width="1" />
<text x="220.30" y="726.20" font-size="8.86" font-weight="bold" font-style="normal" fill="#111" stroke="#111" stroke-width="0.25" textLength="6.03" lengthAdjust="spacingAndGlyphs">2</text>
<line x1="236.65" y1="703.90" x2="236.65" y2="706.90" stroke="#8c8c8c" stroke-width="1" />
<text x="234.20" y="726.20" font-size="8.99" font-weight="bold" font-style="normal" fill="#111" stroke="#111" stroke-width="0.25" textLength="5.41" lengthAdjust="spacingAndGlyphs">4</text>
<line x1="250.32" y1="703.90" x2="250.32" y2="706.90" stroke="#8c8c8c" stroke-width="1" />
<text x="247.65" y="726.11" font-size="8.73" font-weight="bold" font-style="normal" fill="#111" stroke="#111" stroke-width="0.25" textLength="5.96" lengthAdjust="spacingAndGlyphs">6</text>
<line x1="264.00" y1="703.90" x2="264.00" y2="706.90" stroke="#8c8c8c" stroke-width="1" />
<text x="261.38" y="726.11" font-size="8.73" font-weight="bold" font-style="normal" fill="#111" stroke="#111" stroke-width="0.25" textLength="5.84" lengthAdjust="spacingAndGlyphs">8</text>
<line x1="277.68" y1="703.90" x2="277.68" y2="706.90" stroke="#8c8c8c" stroke-width="1" />
<text x="271.93" y="726.11" font-size="8.73" font-weight="bold" font-style="normal" fill="#111" stroke="#111" stroke-width="0.25" textLength="11.89" lengthAdjust="spacingAndGlyphs">10</text>
<line x1="291.35" y1="703.90" x2="291.35" y2="706.90" stroke="#8c8c8c" stroke-width="1" />
<text x="285.61" y="726.20" font-size="8.86" font-weight="bold" font-style="normal" fill="#111" stroke="#111" stroke-width="0.25" textLength="11.89" lengthAdjust="spacingAndGlyphs">12</text>
<line x1="305.02" y1="703.90" x2="305.02" y2="706.90" stroke="#8c8c8c" stroke-width="1" />
<text x="299.30" y="726.20" font-size="8.99" font-weight="bold" font-style="normal" fill="#111" stroke="#111" stroke-width="0.25" textLength="11.50" lengthAdjust="spacingAndGlyphs">14</text>
<line x1="318.70" y1="703.90" x2="318.70" y2="706.90" stroke="#8c8c8c" stroke-width="1" />
<text x="312.96" y="726.11" font-size="8.73" font-weight="bold" font-style="normal" fill="#111" stroke="#111" stroke-width="0.25" textLength="11.84" lengthAdjust="spacingAndGlyphs">16</text>
<text x="201.07" y="507.55" font-size="10.70" font-weight="bold" font-style="normal" fill="#111" stroke="#111" stroke-width="0.25" textLength="121.87" lengthAdjust="spacingAndGlyphs">APL patient B (without DS )</text>
<text x="211.88" y="744.41" font-size="9.95" font-weight="bold" font-style="normal" fill="#111" stroke="#111" stroke-width="0.25" textLength="111.08" lengthAdjust="spacingAndGlyphs">Induction therapy (days)</text>
<polyline points="209.30,704.00 216.14,704.00 222.98,704.00 311.86,704.00" fill="none" stroke="#000" stroke-width="1.5" stroke-linejoin="round"/>
<polyline points="209.30,548.40 216.14,702.00 222.98,702.50 311.86,702.50" fill="none" stroke="#000" stroke-width="1.5" stroke-linejoin="round"/>
<polyline points="209.30,701.00 216.14,701.00 222.98,701.00 311.86,701.00" fill="none" stroke="#000" stroke-width="1.5" stroke-linejoin="round"/>
<polyline points="209.30,694.20 216.14,695.20 222.98,699.00 311.86,696.00" fill="none" stroke="#000" stroke-width="1.5" stroke-linejoin="round"/>
<polyline points="209.30,654.40 216.14,655.80 222.98,665.00 311.86,679.40" fill="none" stroke="#000" stroke-width="1.5" stroke-linejoin="round"/>
<polyline points="209.30,678.90 216.14,677.50 222.98,700.00 311.86,701.50" fill="none" stroke="#000" stroke-width="1.5" stroke-linejoin="round"/>
<polyline points="209.30,523.80 216.14,551.40 222.98,610.10 311.86,599.60" fill="none" stroke="#000" stroke-width="1.5" stroke-linejoin="round"/>
<rect x="207.00" y="701.70" width="4.60" height="4.60" fill="#fff" stroke="#000" stroke-width="1.1"/>
<rect x="213.84" y="701.70" width="4.60" height="4.60" fill="#fff" stroke="#000" stroke-width="1.1"/>
<rect x="220.68" y="701.70" width="4.60" height="4.60" fill="#fff" stroke="#000" stroke-width="1.1"/>
<rect x="309.56" y="701.70" width="4.60" height="4.60" fill="#fff" stroke="#000" stroke-width="1.1"/>
<path d="M206.50,545.60L212.10,551.20M206.50,551.20L212.10,545.60" stroke="#000" stroke-width="1.2" fill="none"/>
<path d="M213.34,699.20L218.94,704.80M213.34,704.80L218.94,699.20" stroke="#000" stroke-width="1.2" fill="none"/>
<path d="M220.18,699.70L225.78,705.30M220.18,705.30L225.78,699.70" stroke="#000" stroke-width="1.2" fill="none"/>
<path d="M309.06,699.70L314.66,705.30M309.06,705.30L314.66,699.70" stroke="#000" stroke-width="1.2" fill="none"/>
<path d="M206.50,698.20L212.10,703.80M206.50,703.80L212.10,698.20M209.30,698.20L209.30,703.80" stroke="#000" stroke-width="1.2" fill="none"/>
<path d="M213.34,698.20L218.94,703.80M213.34,703.80L218.94,698.20M216.14,698.20L216.14,703.80" stroke="#000" stroke-width="1.2" fill="none"/>
<path d="M220.18,698.20L225.78,703.80M220.18,703.80L225.78,698.20M222.98,698.20L222.98,703.80" stroke="#000" stroke-width="1.2" fill="none"/>
<path d="M309.06,698.20L314.66,703.80M309.06,703.80L314.66,698.20M311.86,698.20L311.86,703.80" stroke="#000" stroke-width="1.2" fill="none"/>
<circle cx="209.30" cy="694.20" r="2.90" fill="#000"/>
<circle cx="216.14" cy="695.20" r="2.90" fill="#000"/>
<circle cx="222.98" cy="699.00" r="2.90" fill="#000"/>
<circle cx="311.86" cy="696.00" r="2.90" fill="#000"/>
<path d="M209.30,651.20L212.50,656.80L206.10,656.80Z" fill="#000"/>
<path d="M216.14,652.60L219.34,658.20L212.94,658.20Z" fill="#000"/>
<path d="M222.98,661.80L226.18,667.40L219.78,667.40Z" fill="#000"/>
<path d="M311.86,676.20L315.06,681.80L308.66,681.80Z" fill="#000"/>
<path d="M209.30,675.90L212.30,678.90L209.30,681.90L206.30,678.90Z" fill="#000"/>
<path d="M216.14,674.50L219.14,677.50L216.14,680.50L213.14,677.50Z" fill="#000"/>
<path d="M222.98,697.00L225.98,700.00L222.98,703.00L219.98,700.00Z" fill="#000"/>
<path d="M311.86,698.50L314.86,701.50L311.86,704.50L308.86,701.50Z" fill="#000"/>
<rect x="206.40" y="520.90" width="5.80" height="5.80" fill="#000"/>
<rect x="213.24" y="548.50" width="5.80" height="5.80" fill="#000"/>
<rect x="220.08" y="607.20" width="5.80" height="5.80" fill="#000"/>
<rect x="308.96" y="596.70" width="5.80" height="5.80" fill="#000"/>
<rect x="361.30" y="516.80" width="112.90" height="188.80" fill="none" stroke="#8c8c8c" stroke-width="1"/>
<line x1="358.30" y1="705.60" x2="361.30" y2="705.60" stroke="#8c8c8c" stroke-width="1" />
<line x1="358.30" y1="674.13" x2="361.30" y2="674.13" stroke="#8c8c8c" stroke-width="1" />
<line x1="358.30" y1="642.67" x2="361.30" y2="642.67" stroke="#8c8c8c" stroke-width="1" />
<line x1="358.30" y1="611.20" x2="361.30" y2="611.20" stroke="#8c8c8c" stroke-width="1" />
<line x1="358.30" y1="579.73" x2="361.30" y2="579.73" stroke="#8c8c8c" stroke-width="1" />
<line x1="358.30" y1="548.27" x2="361.30" y2="548.27" stroke="#8c8c8c" stroke-width="1" />
<line x1="358.30" y1="516.80" x2="361.30" y2="516.80" stroke="#8c8c8c" stroke-width="1" />
<line x1="361.30" y1="705.60" x2="361.30" y2="708.60" stroke="#8c8c8c" stroke-width="1" />
<text x="358.56" y="727.31" font-size="8.73" font-weight="bold" font-style="normal" fill="#111" stroke="#111" stroke-width="0.25" textLength="6.09" lengthAdjust="spacingAndGlyphs">0</text>
<line x1="375.41" y1="705.60" x2="375.41" y2="708.60" stroke="#8c8c8c" stroke-width="1" />
<text x="372.73" y="727.40" font-size="8.86" font-weight="bold" font-style="normal" fill="#111" stroke="#111" stroke-width="0.25" textLength="6.03" lengthAdjust="spacingAndGlyphs">2</text>
<line x1="389.52" y1="705.60" x2="389.52" y2="708.60" stroke="#8c8c8c" stroke-width="1" />
<text x="387.08" y="727.40" font-size="8.99" font-weight="bold" font-style="normal" fill="#111" stroke="#111" stroke-width="0.25" textLength="5.41" lengthAdjust="spacingAndGlyphs">4</text>
<line x1="403.64" y1="705.60" x2="403.64" y2="708.60" stroke="#8c8c8c" stroke-width="1" />
<text x="400.96" y="727.31" font-size="8.73" font-weight="bold" font-style="normal" fill="#111" stroke="#111" stroke-width="0.25" textLength="5.96" lengthAdjust="spacingAndGlyphs">6</text>
<line x1="417.75" y1="705.60" x2="417.75" y2="708.60" stroke="#8c8c8c" stroke-width="1" />
<text x="415.13" y="727.31" font-size="8.73" font-weight="bold" font-style="normal" fill="#111" stroke="#111" stroke-width="0.25" textLength="5.84" lengthAdjust="spacingAndGlyphs">8</text>
<line x1="431.86" y1="705.60" x2="431.86" y2="708.60" stroke="#8c8c8c" stroke-width="1" />
<text x="426.12" y="727.31" font-size="8.73" font-weight="bold" font-style="normal" fill="#111" stroke="#111" stroke-width="0.25" textLength="11.89" lengthAdjust="spacingAndGlyphs">10</text>
<line x1="445.98" y1="705.60" x2="445.98" y2="708.60" stroke="#8c8c8c" stroke-width="1" />
<text x="440.23" y="727.40" font-size="8.86" font-weight="bold" font-style="normal" fill="#111" stroke="#111" stroke-width="0.25" textLength="11.89" lengthAdjust="spacingAndGlyphs">12</text>
<line x1="460.09" y1="705.60" x2="460.09" y2="708.60" stroke="#8c8c8c" stroke-width="1" />
<text x="454.37" y="727.40" font-size="8.99" font-weight="bold" font-style="normal" fill="#111" stroke="#111" stroke-width="0.25" textLength="11.50" lengthAdjust="spacingAndGlyphs">14</text>
<line x1="474.20" y1="705.60" x2="474.20" y2="708.60" stroke="#8c8c8c" stroke-width="1" />
<text x="468.46" y="727.31" font-size="8.73" font-weight="bold" font-style="normal" fill="#111" stroke="#111" stroke-width="0.25" textLength="11.84" lengthAdjust="spacingAndGlyphs">16</text>
<text x="362.57" y="506.78" font-size="9.63" font-weight="bold" font-style="normal" fill="#111" stroke="#111" stroke-width="0.25" textLength="104.39" lengthAdjust="spacingAndGlyphs">APL patient C (with DS)</text>
<text x="363.38" y="746.13" font-size="9.84" font-weight="bold" font-style="normal" fill="#111" stroke="#111" stroke-width="0.25" textLength="110.77" lengthAdjust="spacingAndGlyphs">Induction therapy (days)</text>
<polyline points="361.30,705.00 375.41,705.00 403.64,705.00" fill="none" stroke="#000" stroke-width="1.5" stroke-linejoin="round"/>
<polyline points="361.30,704.00 375.41,704.00 403.64,704.00" fill="none" stroke="#000" stroke-width="1.5" stroke-linejoin="round"/>
<polyline points="361.30,684.00 375.41,670.40 403.64,614.20" fill="none" stroke="#000" stroke-width="1.5" stroke-linejoin="round"/>
<polyline points="361.30,681.30 375.41,674.90 403.64,590.70" fill="none" stroke="#000" stroke-width="1.5" stroke-linejoin="round"/>
<polyline points="361.30,684.00 375.41,685.30 403.64,693.70" fill="none" stroke="#000" stroke-width="1.5" stroke-linejoin="round"/>
<polyline points="361.30,679.50 375.41,645.70 403.64,649.40" fill="none" stroke="#000" stroke-width="1.5" stroke-linejoin="round"/>
<polyline points="361.30,624.40 375.41,624.40 403.64,549.10" fill="none" stroke="#000" stroke-width="1.5" stroke-linejoin="round"/>
<rect x="359.00" y="702.70" width="4.60" height="4.60" fill="#fff" stroke="#000" stroke-width="1.1"/>
<rect x="373.11" y="702.70" width="4.60" height="4.60" fill="#fff" stroke="#000" stroke-width="1.1"/>
<rect x="401.34" y="702.70" width="4.60" height="4.60" fill="#fff" stroke="#000" stroke-width="1.1"/>
<path d="M358.50,701.20L364.10,706.80M358.50,706.80L364.10,701.20" stroke="#000" stroke-width="1.2" fill="none"/>
<path d="M372.61,701.20L378.21,706.80M372.61,706.80L378.21,701.20" stroke="#000" stroke-width="1.2" fill="none"/>
<path d="M400.84,701.20L406.44,706.80M400.84,706.80L406.44,701.20" stroke="#000" stroke-width="1.2" fill="none"/>
<path d="M358.50,681.20L364.10,686.80M358.50,686.80L364.10,681.20M361.30,681.20L361.30,686.80" stroke="#000" stroke-width="1.2" fill="none"/>
<path d="M372.61,667.60L378.21,673.20M372.61,673.20L378.21,667.60M375.41,667.60L375.41,673.20" stroke="#000" stroke-width="1.2" fill="none"/>
<path d="M400.84,611.40L406.44,617.00M400.84,617.00L406.44,611.40M403.64,611.40L403.64,617.00" stroke="#000" stroke-width="1.2" fill="none"/>
<circle cx="361.30" cy="681.30" r="2.90" fill="#000"/>
<circle cx="375.41" cy="674.90" r="2.90" fill="#000"/>
<circle cx="403.64" cy="590.70" r="2.90" fill="#000"/>
<path d="M361.30,680.80L364.50,686.40L358.10,686.40Z" fill="#000"/>
<path d="M375.41,682.10L378.61,687.70L372.21,687.70Z" fill="#000"/>
<path d="M403.64,690.50L406.84,696.10L400.44,696.10Z" fill="#000"/>
<path d="M361.30,676.50L364.30,679.50L361.30,682.50L358.30,679.50Z" fill="#000"/>
<path d="M375.41,642.70L378.41,645.70L375.41,648.70L372.41,645.70Z" fill="#000"/>
<path d="M403.64,646.40L406.64,649.40L403.64,652.40L400.64,649.40Z" fill="#000"/>
<rect x="358.40" y="621.50" width="5.80" height="5.80" fill="#000"/>
<rect x="372.51" y="621.50" width="5.80" height="5.80" fill="#000"/>
<rect x="400.74" y="546.20" width="5.80" height="5.80" fill="#000"/>
<line x1="422.40" y1="530.80" x2="437.80" y2="530.80" stroke="#000" stroke-width="1.3" />
<rect x="428.33" y="528.73" width="4.14" height="4.14" fill="#fff" stroke="#000" stroke-width="1.1"/>
<text x="439.78" y="534.11" font-size="8.87" font-weight="normal" font-style="normal" fill="#111" stroke="#111" stroke-width="0.45" textLength="21.51" lengthAdjust="spacingAndGlyphs">CCL1</text>
<line x1="422.40" y1="548.35" x2="437.80" y2="548.35" stroke="#000" stroke-width="1.3" />
<rect x="427.79" y="545.74" width="5.22" height="5.22" fill="#000"/>
<text x="439.77" y="551.66" font-size="8.87" font-weight="normal" font-style="normal" fill="#111" stroke="#111" stroke-width="0.45" textLength="21.87" lengthAdjust="spacingAndGlyphs">CCL2</text>
<line x1="422.40" y1="565.90" x2="437.80" y2="565.90" stroke="#000" stroke-width="1.3" />
<circle cx="430.40" cy="565.90" r="2.61" fill="#000"/>
<text x="439.77" y="569.21" font-size="8.87" font-weight="normal" font-style="normal" fill="#111" stroke="#111" stroke-width="0.45" textLength="22.00" lengthAdjust="spacingAndGlyphs">CCL4</text>
<line x1="422.40" y1="583.45" x2="437.80" y2="583.45" stroke="#000" stroke-width="1.3" />
<path d="M427.88,580.93L432.92,585.97M427.88,585.97L432.92,580.93M430.40,580.93L430.40,585.97" stroke="#000" stroke-width="1.2" fill="none"/>
<text x="439.78" y="586.76" font-size="8.87" font-weight="normal" font-style="normal" fill="#111" stroke="#111" stroke-width="0.45" textLength="21.56" lengthAdjust="spacingAndGlyphs">CCL7</text>
<line x1="422.40" y1="601.00" x2="437.80" y2="601.00" stroke="#000" stroke-width="1.3" />
<path d="M427.88,598.48L432.92,603.52M427.88,603.52L432.92,598.48" stroke="#000" stroke-width="1.2" fill="none"/>
<text x="439.76" y="604.31" font-size="8.87" font-weight="normal" font-style="normal" fill="#111" stroke="#111" stroke-width="0.45" textLength="27.68" lengthAdjust="spacingAndGlyphs">CCL20</text>
<line x1="422.40" y1="618.55" x2="437.80" y2="618.55" stroke="#000" stroke-width="1.3" />
<path d="M430.40,615.67L433.28,620.71L427.52,620.71Z" fill="#000"/>
<text x="439.75" y="621.86" font-size="8.87" font-weight="normal" font-style="normal" fill="#111" stroke="#111" stroke-width="0.45" textLength="27.82" lengthAdjust="spacingAndGlyphs">CCL22</text>
<line x1="422.40" y1="636.10" x2="437.80" y2="636.10" stroke="#000" stroke-width="1.3" />
<path d="M430.40,633.40L433.10,636.10L430.40,638.80L427.70,636.10Z" fill="#000"/>
<text x="439.75" y="639.41" font-size="8.87" font-weight="normal" font-style="normal" fill="#111" stroke="#111" stroke-width="0.45" textLength="27.84" lengthAdjust="spacingAndGlyphs">CCL24</text>
<line x1="37.40" y1="788.70" x2="37.40" y2="935.30" stroke="#8a8a8a" stroke-width="1" />
<line x1="37.40" y1="935.30" x2="327.60" y2="935.30" stroke="#8a8a8a" stroke-width="1" />
<line x1="327.60" y1="788.70" x2="327.60" y2="935.30" stroke="#8a8a8a" stroke-width="1" />
<line x1="34.60" y1="935.30" x2="37.40" y2="935.30" stroke="#8a8a8a" stroke-width="1" />
<text x="23.30" y="938.51" font-size="9.30" font-weight="bold" font-style="normal" fill="#000" stroke="#000" stroke-width="0.25" textLength="5.50" lengthAdjust="spacingAndGlyphs">0</text>
<line x1="34.60" y1="919.01" x2="37.40" y2="919.01" stroke="#8a8a8a" stroke-width="1" />
<text x="23.36" y="922.31" font-size="9.43" font-weight="bold" font-style="normal" fill="#000" stroke="#000" stroke-width="0.25" textLength="5.45" lengthAdjust="spacingAndGlyphs">2</text>
<line x1="34.60" y1="902.72" x2="37.40" y2="902.72" stroke="#8a8a8a" stroke-width="1" />
<text x="23.57" y="906.02" font-size="9.57" font-weight="bold" font-style="normal" fill="#000" stroke="#000" stroke-width="0.25" textLength="4.89" lengthAdjust="spacingAndGlyphs">4</text>
<line x1="34.60" y1="886.44" x2="37.40" y2="886.44" stroke="#8a8a8a" stroke-width="1" />
<text x="23.36" y="889.64" font-size="9.30" font-weight="bold" font-style="normal" fill="#000" stroke="#000" stroke-width="0.25" textLength="5.39" lengthAdjust="spacingAndGlyphs">6</text>
<line x1="34.60" y1="870.15" x2="37.40" y2="870.15" stroke="#8a8a8a" stroke-width="1" />
<text x="23.42" y="873.36" font-size="9.30" font-weight="bold" font-style="normal" fill="#000" stroke="#000" stroke-width="0.25" textLength="5.28" lengthAdjust="spacingAndGlyphs">8</text>
<line x1="34.60" y1="853.86" x2="37.40" y2="853.86" stroke="#8a8a8a" stroke-width="1" />
<text x="17.70" y="857.07" font-size="9.30" font-weight="bold" font-style="normal" fill="#000" stroke="#000" stroke-width="0.25" textLength="11.12" lengthAdjust="spacingAndGlyphs">10</text>
<line x1="34.60" y1="837.57" x2="37.40" y2="837.57" stroke="#8a8a8a" stroke-width="1" />
<text x="17.70" y="840.87" font-size="9.43" font-weight="bold" font-style="normal" fill="#000" stroke="#000" stroke-width="0.25" textLength="11.12" lengthAdjust="spacingAndGlyphs">12</text>
<line x1="34.60" y1="821.28" x2="37.40" y2="821.28" stroke="#8a8a8a" stroke-width="1" />
<text x="17.72" y="824.58" font-size="9.57" font-weight="bold" font-style="normal" fill="#000" stroke="#000" stroke-width="0.25" textLength="10.75" lengthAdjust="spacingAndGlyphs">14</text>
<line x1="34.60" y1="805.00" x2="37.40" y2="805.00" stroke="#8a8a8a" stroke-width="1" />
<text x="17.70" y="808.20" font-size="9.30" font-weight="bold" font-style="normal" fill="#000" stroke="#000" stroke-width="0.25" textLength="11.07" lengthAdjust="spacingAndGlyphs">16</text>
<line x1="34.60" y1="788.71" x2="37.40" y2="788.71" stroke="#8a8a8a" stroke-width="1" />
<text x="17.71" y="791.92" font-size="9.30" font-weight="bold" font-style="normal" fill="#000" stroke="#000" stroke-width="0.25" textLength="11.01" lengthAdjust="spacingAndGlyphs">18</text>
<line x1="327.60" y1="935.30" x2="330.70" y2="935.30" stroke="#8a8a8a" stroke-width="1" />
<text x="336.66" y="938.56" font-size="9.44" font-weight="bold" font-style="normal" fill="#000" stroke="#000" stroke-width="0.25" textLength="10.81" lengthAdjust="spacingAndGlyphs">95</text>
<line x1="327.60" y1="921.97" x2="330.70" y2="921.97" stroke="#8a8a8a" stroke-width="1" />
<text x="336.66" y="925.23" font-size="9.44" font-weight="bold" font-style="normal" fill="#000" stroke="#000" stroke-width="0.25" textLength="10.91" lengthAdjust="spacingAndGlyphs">96</text>
<line x1="327.60" y1="908.65" x2="330.70" y2="908.65" stroke="#8a8a8a" stroke-width="1" />
<text x="336.66" y="911.90" font-size="9.44" font-weight="bold" font-style="normal" fill="#000" stroke="#000" stroke-width="0.25" textLength="10.96" lengthAdjust="spacingAndGlyphs">97</text>
<line x1="327.60" y1="895.32" x2="330.70" y2="895.32" stroke="#8a8a8a" stroke-width="1" />
<text x="336.66" y="898.57" font-size="9.44" font-weight="bold" font-style="normal" fill="#000" stroke="#000" stroke-width="0.25" textLength="10.86" lengthAdjust="spacingAndGlyphs">98</text>
<line x1="327.60" y1="881.99" x2="330.70" y2="881.99" stroke="#8a8a8a" stroke-width="1" />
<text x="336.66" y="885.25" font-size="9.44" font-weight="bold" font-style="normal" fill="#000" stroke="#000" stroke-width="0.25" textLength="10.91" lengthAdjust="spacingAndGlyphs">99</text>
<line x1="327.60" y1="868.66" x2="330.70" y2="868.66" stroke="#8a8a8a" stroke-width="1" />
<text x="336.41" y="871.92" font-size="9.44" font-weight="bold" font-style="normal" fill="#000" stroke="#000" stroke-width="0.25" textLength="16.31" lengthAdjust="spacingAndGlyphs">100</text>
<line x1="327.60" y1="855.34" x2="330.70" y2="855.34" stroke="#8a8a8a" stroke-width="1" />
<text x="336.42" y="858.59" font-size="9.44" font-weight="bold" font-style="normal" fill="#000" stroke="#000" stroke-width="0.25" textLength="16.16" lengthAdjust="spacingAndGlyphs">101</text>
<line x1="327.60" y1="842.01" x2="330.70" y2="842.01" stroke="#8a8a8a" stroke-width="1" />
<text x="336.41" y="845.27" font-size="9.44" font-weight="bold" font-style="normal" fill="#000" stroke="#000" stroke-width="0.25" textLength="16.31" lengthAdjust="spacingAndGlyphs">102</text>
<line x1="327.60" y1="828.68" x2="330.70" y2="828.68" stroke="#8a8a8a" stroke-width="1" />
<text x="336.42" y="831.94" font-size="9.44" font-weight="bold" font-style="normal" fill="#000" stroke="#000" stroke-width="0.25" textLength="16.26" lengthAdjust="spacingAndGlyphs">103</text>
<line x1="327.60" y1="815.36" x2="330.70" y2="815.36" stroke="#8a8a8a" stroke-width="1" />
<text x="336.43" y="818.61" font-size="9.44" font-weight="bold" font-style="normal" fill="#000" stroke="#000" stroke-width="0.25" textLength="15.96" lengthAdjust="spacingAndGlyphs">104</text>
<line x1="327.60" y1="802.03" x2="330.70" y2="802.03" stroke="#8a8a8a" stroke-width="1" />
<text x="336.42" y="805.29" font-size="9.44" font-weight="bold" font-style="normal" fill="#000" stroke="#000" stroke-width="0.25" textLength="16.16" lengthAdjust="spacingAndGlyphs">105</text>
<line x1="327.60" y1="788.70" x2="330.70" y2="788.70" stroke="#8a8a8a" stroke-width="1" />
<text x="336.42" y="791.96" font-size="9.44" font-weight="bold" font-style="normal" fill="#000" stroke="#000" stroke-width="0.25" textLength="16.26" lengthAdjust="spacingAndGlyphs">106</text>
<line x1="37.40" y1="935.30" x2="37.40" y2="938.30" stroke="#8a8a8a" stroke-width="1" />
<text x="34.65" y="952.91" font-size="9.15" font-weight="bold" font-style="normal" fill="#000" stroke="#000" stroke-width="0.25" textLength="5.50" lengthAdjust="spacingAndGlyphs">0</text>
<line x1="59.74" y1="935.30" x2="59.74" y2="938.30" stroke="#8a8a8a" stroke-width="1" />
<text x="56.79" y="953.00" font-size="9.42" font-weight="bold" font-style="normal" fill="#000" stroke="#000" stroke-width="0.25" textLength="5.56" lengthAdjust="spacingAndGlyphs">1</text>
<line x1="82.08" y1="935.30" x2="82.08" y2="938.30" stroke="#8a8a8a" stroke-width="1" />
<text x="79.39" y="953.00" font-size="9.29" font-weight="bold" font-style="normal" fill="#000" stroke="#000" stroke-width="0.25" textLength="5.45" lengthAdjust="spacingAndGlyphs">2</text>
<line x1="104.42" y1="935.30" x2="104.42" y2="938.30" stroke="#8a8a8a" stroke-width="1" />
<text x="101.83" y="952.91" font-size="9.15" font-weight="bold" font-style="normal" fill="#000" stroke="#000" stroke-width="0.25" textLength="5.28" lengthAdjust="spacingAndGlyphs">3</text>
<line x1="126.76" y1="935.30" x2="126.76" y2="938.30" stroke="#8a8a8a" stroke-width="1" />
<text x="124.28" y="953.00" font-size="9.42" font-weight="bold" font-style="normal" fill="#000" stroke="#000" stroke-width="0.25" textLength="4.89" lengthAdjust="spacingAndGlyphs">4</text>
<line x1="149.10" y1="935.30" x2="149.10" y2="938.30" stroke="#8a8a8a" stroke-width="1" />
<text x="146.47" y="952.91" font-size="9.29" font-weight="bold" font-style="normal" fill="#000" stroke="#000" stroke-width="0.25" textLength="5.23" lengthAdjust="spacingAndGlyphs">5</text>
<line x1="171.44" y1="935.30" x2="171.44" y2="938.30" stroke="#8a8a8a" stroke-width="1" />
<text x="168.75" y="952.91" font-size="9.15" font-weight="bold" font-style="normal" fill="#000" stroke="#000" stroke-width="0.25" textLength="5.39" lengthAdjust="spacingAndGlyphs">6</text>
<line x1="193.78" y1="935.30" x2="193.78" y2="938.30" stroke="#8a8a8a" stroke-width="1" />
<text x="191.03" y="953.00" font-size="9.42" font-weight="bold" font-style="normal" fill="#000" stroke="#000" stroke-width="0.25" textLength="5.50" lengthAdjust="spacingAndGlyphs">7</text>
<line x1="216.12" y1="935.30" x2="216.12" y2="938.30" stroke="#8a8a8a" stroke-width="1" />
<text x="213.49" y="952.91" font-size="9.15" font-weight="bold" font-style="normal" fill="#000" stroke="#000" stroke-width="0.25" textLength="5.28" lengthAdjust="spacingAndGlyphs">8</text>
<line x1="238.46" y1="935.30" x2="238.46" y2="938.30" stroke="#8a8a8a" stroke-width="1" />
<text x="235.77" y="952.91" font-size="9.15" font-weight="bold" font-style="normal" fill="#000" stroke="#000" stroke-width="0.25" textLength="5.39" lengthAdjust="spacingAndGlyphs">9</text>
<line x1="260.80" y1="935.30" x2="260.80" y2="938.30" stroke="#8a8a8a" stroke-width="1" />
<text x="255.26" y="952.91" font-size="9.15" font-weight="bold" font-style="normal" fill="#000" stroke="#000" stroke-width="0.25" textLength="10.90" lengthAdjust="spacingAndGlyphs">10</text>
<line x1="283.14" y1="935.30" x2="283.14" y2="938.30" stroke="#8a8a8a" stroke-width="1" />
<text x="277.58" y="953.00" font-size="9.42" font-weight="bold" font-style="normal" fill="#000" stroke="#000" stroke-width="0.25" textLength="10.79" lengthAdjust="spacingAndGlyphs">11</text>
<line x1="305.48" y1="935.30" x2="305.48" y2="938.30" stroke="#8a8a8a" stroke-width="1" />
<text x="299.94" y="953.00" font-size="9.29" font-weight="bold" font-style="normal" fill="#000" stroke="#000" stroke-width="0.25" textLength="10.90" lengthAdjust="spacingAndGlyphs">12</text>
<line x1="327.82" y1="935.30" x2="327.82" y2="938.30" stroke="#8a8a8a" stroke-width="1" />
<text x="322.28" y="952.91" font-size="9.15" font-weight="bold" font-style="normal" fill="#000" stroke="#000" stroke-width="0.25" textLength="10.85" lengthAdjust="spacingAndGlyphs">13</text>
<text transform="translate(10.09,933.00) rotate(-90)" x="0" y="0" font-size="9.09" font-weight="bold" font-style="normal" fill="#000" stroke="#000" stroke-width="0.25" textLength="120.88" lengthAdjust="spacingAndGlyphs">White blood cell count (10</text>
<text transform="translate(7.74,812.08) rotate(-90)" x="0" y="0" font-size="6.48" font-weight="bold" font-style="normal" fill="#000" stroke="#000" stroke-width="0.25" textLength="8.96" lengthAdjust="spacingAndGlyphs">E9</text>
<text transform="translate(10.09,802.91) rotate(-90)" x="0" y="0" font-size="9.09" font-weight="bold" font-style="normal" fill="#000" stroke="#000" stroke-width="0.25" textLength="13.11" lengthAdjust="spacingAndGlyphs">/L)</text>
<text transform="translate(366.71,888.60) rotate(-90)" x="0" y="0" font-size="8.98" font-weight="bold" font-style="normal" fill="#000" stroke="#000" stroke-width="0.25" textLength="53.19" lengthAdjust="spacingAndGlyphs">Weight (kg)</text>
<polyline points="37.40,835.80 59.74,863.00 82.08,829.80 104.42,802.50 126.76,829.50 149.10,829.50 171.44,855.60 193.78,868.30 216.12,862.20 238.46,902.20 260.80,888.60 283.14,922.20 305.48,922.20 327.82,922.20" fill="none" stroke="#7a7a7a" stroke-width="1.15" stroke-linejoin="round"/>
<path d="M37.40,832.20L41.00,838.40L33.80,838.40Z" fill="#7a7a7a"/>
<path d="M59.74,859.40L63.34,865.60L56.14,865.60Z" fill="#7a7a7a"/>
<path d="M82.08,826.20L85.68,832.40L78.48,832.40Z" fill="#7a7a7a"/>
<path d="M104.42,798.90L108.02,805.10L100.82,805.10Z" fill="#7a7a7a"/>
<path d="M126.76,825.90L130.36,832.10L123.16,832.10Z" fill="#7a7a7a"/>
<path d="M149.10,825.90L152.70,832.10L145.50,832.10Z" fill="#7a7a7a"/>
<path d="M171.44,852.00L175.04,858.20L167.84,858.20Z" fill="#7a7a7a"/>
<path d="M193.78,864.70L197.38,870.90L190.18,870.90Z" fill="#7a7a7a"/>
<path d="M216.12,858.60L219.72,864.80L212.52,864.80Z" fill="#7a7a7a"/>
<path d="M238.46,898.60L242.06,904.80L234.86,904.80Z" fill="#7a7a7a"/>
<path d="M260.80,885.00L264.40,891.20L257.20,891.20Z" fill="#7a7a7a"/>
<path d="M283.14,918.60L286.74,924.80L279.54,924.80Z" fill="#7a7a7a"/>
<path d="M305.48,918.60L309.08,924.80L301.88,924.80Z" fill="#7a7a7a"/>
<path d="M327.82,918.60L331.42,924.80L324.22,924.80Z" fill="#7a7a7a"/>
<polyline points="37.40,868.70 59.74,831.00 82.08,805.00 104.42,795.80 126.76,868.50 149.10,907.40 171.44,925.10 193.78,931.60 216.12,932.40 238.46,932.40 260.80,932.40 283.14,932.40 305.48,932.40 327.82,931.00" fill="none" stroke="#000" stroke-width="1.25" stroke-linejoin="round"/>
<path d="M37.40,865.50L40.60,868.70L37.40,871.90L34.20,868.70Z" fill="#000"/>
<path d="M59.74,827.80L62.94,831.00L59.74,834.20L56.54,831.00Z" fill="#000"/>
<path d="M82.08,801.80L85.28,805.00L82.08,808.20L78.88,805.00Z" fill="#000"/>
<path d="M104.42,792.60L107.62,795.80L104.42,799.00L101.22,795.80Z" fill="#000"/>
<path d="M126.76,865.30L129.96,868.50L126.76,871.70L123.56,868.50Z" fill="#000"/>
<path d="M149.10,904.20L152.30,907.40L149.10,910.60L145.90,907.40Z" fill="#000"/>
<path d="M171.44,921.90L174.64,925.10L171.44,928.30L168.24,925.10Z" fill="#000"/>
<path d="M193.78,928.40L196.98,931.60L193.78,934.80L190.58,931.60Z" fill="#000"/>
<path d="M216.12,929.20L219.32,932.40L216.12,935.60L212.92,932.40Z" fill="#000"/>
<path d="M238.46,929.20L241.66,932.40L238.46,935.60L235.26,932.40Z" fill="#000"/>
<path d="M260.80,929.20L264.00,932.40L260.80,935.60L257.60,932.40Z" fill="#000"/>
<path d="M283.14,929.20L286.34,932.40L283.14,935.60L279.94,932.40Z" fill="#000"/>
<path d="M305.48,929.20L308.68,932.40L305.48,935.60L302.28,932.40Z" fill="#000"/>
<path d="M327.82,927.80L331.02,931.00L327.82,934.20L324.62,931.00Z" fill="#000"/>
<line x1="189.80" y1="772.90" x2="200.40" y2="772.90" stroke="#000" stroke-width="1.2" />
<path d="M195.4,770.9L197.6,772.9L195.4,774.9L193.2,772.9Z" fill="#000"/>
<text x="201.66" y="776.40" font-size="9.52" font-weight="bold" font-style="normal" fill="#000" stroke="#000" stroke-width="0.25" textLength="54.36" lengthAdjust="spacingAndGlyphs">Leukocytes</text>
<line x1="267.90" y1="772.90" x2="278.50" y2="772.90" stroke="#7a7a7a" stroke-width="1.2" />
<path d="M273.2,770.2L275.8,774.7L270.6,774.7Z" fill="#7a7a7a"/>
<text x="280.40" y="776.42" font-size="9.41" font-weight="bold" font-style="normal" fill="#000" stroke="#000" stroke-width="0.25" textLength="32.34" lengthAdjust="spacingAndGlyphs">Weight</text>
<line x1="58.90" y1="956.80" x2="58.90" y2="964.90" stroke="#555" stroke-width="1.0" />
<path d="M56.50,959.50L58.90,956.30L61.30,959.50" fill="none" stroke="#555" stroke-width="1.0"/>
<text x="51.65" y="974.92" font-size="8.17" font-weight="bold" font-style="normal" fill="#000" stroke="#000" stroke-width="0.25" textLength="11.78" lengthAdjust="spacingAndGlyphs">DS</text>
<line x1="199.20" y1="964.50" x2="220.00" y2="964.50" stroke="#000" stroke-width="1.0" />
<path d="M216.8,962.2L220.3,964.5L216.8,966.8" fill="none" stroke="#000" stroke-width="1"/>
<text x="225.03" y="966.20" font-size="7.17" font-weight="bold" font-style="normal" fill="#000" stroke="#000" stroke-width="0.25" textLength="101.38" lengthAdjust="spacingAndGlyphs">Induction therapy (days)</text>
<line x1="37.40" y1="980.80" x2="58.10" y2="980.80" stroke="#222" stroke-width="1.4" />
<line x1="37.40" y1="980.80" x2="37.40" y2="1012.20" stroke="#222" stroke-width="1.4" />
<line x1="58.10" y1="980.80" x2="58.10" y2="1012.20" stroke="#222" stroke-width="1.4" />
<line x1="37.40" y1="996.80" x2="327.60" y2="996.80" stroke="#222" stroke-width="1.4" />
<line x1="37.40" y1="1012.20" x2="327.60" y2="1012.20" stroke="#222" stroke-width="1.4" />
<line x1="327.60" y1="980.20" x2="327.60" y2="1012.20" stroke="#222" stroke-width="1.4" />
<line x1="217.50" y1="996.80" x2="307.00" y2="980.20" stroke="#222" stroke-width="1.2" />
<line x1="307.00" y1="980.20" x2="327.60" y2="980.20" stroke="#222" stroke-width="1.4" />
<line x1="284.50" y1="996.80" x2="284.50" y2="1012.20" stroke="#222" stroke-width="1.4" />
<text x="6.51" y="990.90" font-size="8.41" font-weight="bold" font-style="normal" fill="#000" stroke="#000" stroke-width="0.25" textLength="20.61" lengthAdjust="spacingAndGlyphs">ATRA</text>
<text x="6.21" y="1005.30" font-size="7.83" font-weight="bold" font-style="normal" fill="#000" stroke="#000" stroke-width="0.25" textLength="21.02" lengthAdjust="spacingAndGlyphs">PRED</text>
<text x="64.22" y="989.33" font-size="7.21" font-weight="bold" font-style="normal" fill="#000" stroke="#000" stroke-width="0.25" textLength="10.71" lengthAdjust="spacingAndGlyphs">Ida</text>
<line x1="81.30" y1="982.70" x2="81.30" y2="996.80" stroke="#000" stroke-width="1.0" />
<path d="M78.90,985.40L81.30,982.20L83.70,985.40" fill="none" stroke="#000" stroke-width="1.0"/>
<text x="108.71" y="989.33" font-size="7.21" font-weight="bold" font-style="normal" fill="#000" stroke="#000" stroke-width="0.25" textLength="10.81" lengthAdjust="spacingAndGlyphs">Ida</text>
<line x1="126.10" y1="982.70" x2="126.10" y2="996.80" stroke="#000" stroke-width="1.0" />
<path d="M123.70,985.40L126.10,982.20L128.50,985.40" fill="none" stroke="#000" stroke-width="1.0"/>
<text x="152.98" y="989.33" font-size="7.21" font-weight="bold" font-style="normal" fill="#000" stroke="#000" stroke-width="0.25" textLength="11.54" lengthAdjust="spacingAndGlyphs">Ida</text>
<line x1="171.10" y1="982.70" x2="171.10" y2="996.80" stroke="#000" stroke-width="1.0" />
<path d="M168.70,985.40L171.10,982.20L173.50,985.40" fill="none" stroke="#000" stroke-width="1.0"/>
<text x="197.51" y="989.33" font-size="7.21" font-weight="bold" font-style="normal" fill="#000" stroke="#000" stroke-width="0.25" textLength="10.91" lengthAdjust="spacingAndGlyphs">Ida</text>
<line x1="215.30" y1="982.70" x2="215.30" y2="996.80" stroke="#000" stroke-width="1.0" />
<path d="M212.90,985.40L215.30,982.20L217.70,985.40" fill="none" stroke="#000" stroke-width="1.0"/>
<text x="134.10" y="1007.23" font-size="6.94" font-weight="bold" font-style="normal" fill="#000" stroke="#000" stroke-width="0.25" textLength="58.46" lengthAdjust="spacingAndGlyphs">Dexamethasone</text>
<text x="301.01" y="992.90" font-size="8.12" font-weight="bold" font-style="normal" fill="#000" stroke="#000" stroke-width="0.25" textLength="20.61" lengthAdjust="spacingAndGlyphs">ATRA</text>
<text x="297.81" y="1007.20" font-size="8.26" font-weight="bold" font-style="normal" fill="#000" stroke="#000" stroke-width="0.25" textLength="20.81" lengthAdjust="spacingAndGlyphs">PRED</text>
</svg>
</body></html>
